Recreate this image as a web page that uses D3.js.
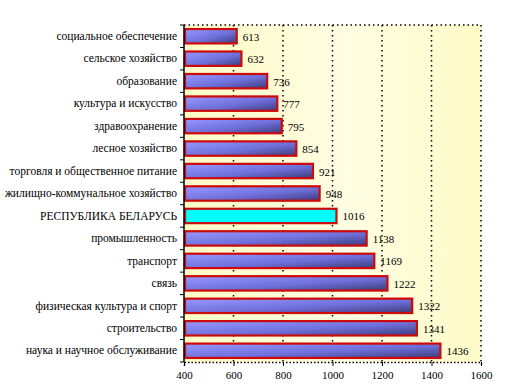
<!DOCTYPE html>
<html>
<head>
<meta charset="utf-8">
<script src="https://cdn.jsdelivr.net/npm/d3@7"></script>
<style>
  body { margin: 0; background: #fff; }
</style>
</head>
<body>
<div id="chart"></div>
<script>
// Categories and values (top to bottom as in the picture)
var categories = [
    "социальное обеспечение",
    "сельское хозяйство",
    "образование",
    "культура и искусство",
    "здравоохранение",
    "лесное хозяйство",
    "торговля и общественное питание",
    "жилищно-коммунальное хозяйство",
    "РЕСПУБЛИКА БЕЛАРУСЬ",
    "промышленность",
    "транспорт",
    "связь",
    "физическая культура и спорт",
    "строительство",
    "наука и научное обслуживание"
];
var values = [613, 632, 736, 777, 795, 854, 921, 948, 1016, 1138, 1169, 1222, 1322, 1341, 1436];
var xTicks = [400, 600, 800, 1000, 1200, 1400, 1600];
var highlight = "РЕСПУБЛИКА БЕЛАРУСЬ";

var fontName = "Liberation Serif";

var data = categories.map(function (c, i) { return { name: c, value: values[i] }; });

var margin = { top: 25, right: 44, bottom: 28, left: 184 },
    W = 525, H = 390,
    width = W - margin.left - margin.right,
    height = H - margin.top - margin.bottom;

var svg = d3.select("#chart").append("svg")
    .attr("width", W)
    .attr("height", H);

var defs = svg.append("defs");

// plot background gradient (pale yellow)
var bg = defs.append("linearGradient").attr("id", "bg")
    .attr("x1", "0%").attr("x2", "100%").attr("y1", "0%").attr("y2", "0%");
bg.append("stop").attr("offset", "0%").attr("stop-color", "#fffbc6");
bg.append("stop").attr("offset", "55%").attr("stop-color", "#fffde2");
bg.append("stop").attr("offset", "100%").attr("stop-color", "#fffbc8");

// bar gradient: light blue-violet to dark navy
var bar = defs.append("linearGradient").attr("id", "barFill")
    .attr("x1", "0%").attr("x2", "100%").attr("y1", "0%").attr("y2", "100%");
bar.append("stop").attr("offset", "0%").attr("stop-color", "#9898ff");
bar.append("stop").attr("offset", "55%").attr("stop-color", "#7070dc");
bar.append("stop").attr("offset", "100%").attr("stop-color", "#3c3c7c");

var g = svg.append("g").attr("transform", "translate(" + margin.left + "," + margin.top + ")");

var x = d3.scaleLinear().domain([400, 1600]).range([0, width]);
var y = d3.scaleBand().domain(categories).range([0, height]).paddingInner(0.36).paddingOuter(0.18);
var yb = d3.scaleBand().domain(categories).range([0, height]);

g.append("rect")
    .attr("width", width)
    .attr("height", height)
    .attr("fill", "url(#bg)");

// vertical gridlines
g.selectAll(".grid")
    .data(xTicks.slice(1))
    .enter().append("line")
    .attr("x1", function (d) { return x(d); })
    .attr("x2", function (d) { return x(d); })
    .attr("y1", 0)
    .attr("y2", height)
    .attr("stroke", "#000")
    .attr("stroke-width", 1.5)
    .attr("stroke-dasharray", "1.5,3.5");

// top border
g.append("line")
    .attr("x1", 0).attr("x2", width).attr("y1", 0).attr("y2", 0)
    .attr("stroke", "#000").attr("stroke-width", 1.5).attr("stroke-dasharray", "1.5,3");

// bars
g.selectAll(".bar")
    .data(data)
    .enter().append("rect")
    .attr("x", x(400) + 1)
    .attr("y", function (d) { return y(d.name); })
    .attr("width", function (d) { return x(d.value) - x(400) - 1; })
    .attr("height", y.bandwidth())
    .attr("fill", function (d) { return d.name === highlight ? "#00ffff" : "url(#barFill)"; })
    .attr("stroke", "#cc0a0a")
    .attr("stroke-width", 2.2);

// value labels
g.selectAll(".val")
    .data(data)
    .enter().append("text")
    .attr("x", function (d) { return x(d.value) + 6; })
    .attr("y", function (d) { return y(d.name) + y.bandwidth() / 2 + 4.5; })
    .attr("font-family", fontName)
    .attr("font-size", "11px")
    .attr("fill", "#000")
    .text(function (d) { return d.value; });

// x axis
var xAxis = g.append("g")
    .attr("transform", "translate(0," + height + ")")
    .call(d3.axisBottom(x).tickValues(xTicks).tickSize(4).tickPadding(5).tickFormat(d3.format("d")))
    .attr("font-family", fontName)
    .attr("font-size", "11px");
xAxis.select(".domain")
    .attr("stroke", "#000").attr("stroke-width", 1.5).attr("stroke-dasharray", "1.5,2");
xAxis.selectAll("line").attr("stroke", "#000");
xAxis.selectAll("text").attr("fill", "#000");

// y axis: labels and boundary ticks
var yAxis = g.append("g")
    .call(d3.axisLeft(y).tickSize(0).tickPadding(7))
    .attr("font-family", fontName)
    .attr("font-size", "11.5px");
yAxis.select(".domain").remove();
yAxis.selectAll("text").attr("fill", "#000");

g.append("line")
    .attr("x1", 0).attr("x2", 0).attr("y1", 0).attr("y2", height)
    .attr("stroke", "#000").attr("stroke-width", 1.5);

g.selectAll(".ytick")
    .data(categories.concat(["end"]))
    .enter().append("line")
    .attr("x1", -4).attr("x2", 0)
    .attr("y1", function (d, i) { return i * yb.bandwidth(); })
    .attr("y2", function (d, i) { return i * yb.bandwidth(); })
    .attr("stroke", "#000");
</script>
</body>
</html>
